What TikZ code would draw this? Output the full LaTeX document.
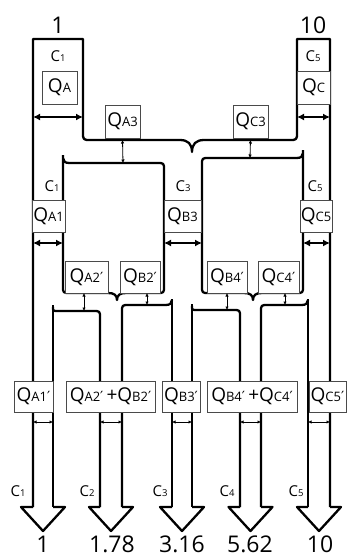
\documentclass[tikz,border=0pt]{standalone}
\usepackage{fontspec}
\setmainfont{Open Sans}
\newfontfamily\primefont{DejaVu Sans}
\usetikzlibrary{arrows.meta}
\definecolor{boxgray}{HTML}{4A4A4A}
\newcommand{\qs}[1]{{\fontsize{13}{13}\selectfont #1}}
\newcommand{\cs}[1]{{\fontsize{9.5}{9.5}\selectfont #1}}
\newcommand{\pr}{{\primefont\fontsize{14}{14}\selectfont ′}}

\begin{document}
\begin{tikzpicture}[x=1pt, y=-1pt,
  wall/.style={line width=2.3pt, line join=round},
  qbox/.style={draw=boxgray, line width=0.9pt, fill=white, inner sep=0pt, font=\fontsize{19}{19}\selectfont},
  clabel/.style={font=\fontsize{15}{15}\selectfont},
  numlabel/.style={font=\fontsize{23}{23}\selectfont},
  bigarrow/.style={{Latex[length=7pt,width=7pt]}-{Latex[length=7pt,width=7pt]}, line width=1.6pt},
  tinyarrow/.style={{Latex[length=3.5pt,width=3.5pt]}-{Latex[length=3.5pt,width=3.5pt]}, line width=0.8pt}]
  \useasboundingbox (0,0) rectangle (349,558);

  % outer channels and top brace
  \draw[wall] (33,507) -- (33,39) -- (83,39) -- (83,132) .. controls (83,140) .. (91,140) -- (180,140)
    .. controls (188,140) and (192,144) .. (192,152) .. controls (192,144) and (196,140) .. (204,140)
    -- (289,140) .. controls (297,140) .. (297,132) -- (297,39) -- (330,39) -- (330,507);

  % left branch
  \draw[wall] (63,155) -- (63,286) .. controls (63,293) .. (70,293) -- (108,293)
    .. controls (114,293) and (117,295) .. (117,300) .. controls (117,295) and (120,293) .. (126,293)
    -- (157,293) .. controls (164,293) .. (164,286) -- (164,170) .. controls (164,163) .. (157,163)
    -- (69,163) .. controls (65,163) and (63,161) .. (63,158);

  % right branch
  \draw[wall] (303,150) -- (303,286) .. controls (303,293) .. (296,293) -- (262,293)
    .. controls (256,293) and (253,295) .. (253,300) .. controls (253,295) and (250,293) .. (244,293)
    -- (209,293) .. controls (202,293) .. (202,286) -- (202,165) .. controls (202,158) .. (209,158)
    -- (297,158) .. controls (301,158) and (303,156) .. (303,153);

  % lower sub-branches
  \draw[wall] (53,305) -- (53,507);
  \draw[wall] (53,307) .. controls (53,311) .. (58,311) -- (93,311) .. controls (100,311) .. (100,318) -- (100,507);
  \draw[wall] (122,507) -- (122,312) .. controls (122,305) .. (129,305) -- (166,305) .. controls (170,305) and (172,303) .. (172,300);
  \draw[wall] (172,299) -- (172,507);
  \draw[wall] (192,304) -- (192,507);
  \draw[wall] (192,306) .. controls (192,310) .. (197,310) -- (233,310) .. controls (240,310) .. (240,317) -- (240,507);
  \draw[wall] (261,507) -- (261,312) .. controls (261,305) .. (268,305) -- (302,305) .. controls (306,305) and (308,303) .. (308,300);
  \draw[wall] (308,299) -- (308,507);

  % arrow heads
  \foreach \l/\c/\r in {33/43/53, 100/111/122, 172/182/192, 240/250.5/261, 308/319/330}
    \draw[wall] (\l,507) -- (\c-22,507) -- (\c,531) -- (\c+22,507) -- (\r,507);

  % labels
  \node[numlabel, anchor=base] (top1) at (58,33) {1};
  \node[numlabel, anchor=base] (top10) at (313,33) {10};
  \node[clabel] (ct1) at (58,56) {C\cs{1}};
  \node[clabel] (ct5) at (313,56) {C\cs{5}};
  \node[clabel] (cm1) at (52,186) {C\cs{1}};
  \node[clabel] (cm3) at (183,186) {C\cs{3}};
  \node[clabel] (cm5) at (315,186) {C\cs{5}};
  \foreach \x/\i in {18/1, 87/2, 160/3, 227/4, 296/5}
    \node[clabel] (cb\i) at (\x,491) {C\cs{\i}};
  \foreach \x/\v/\i in {43/1/1, 112/1.78/2, 182/3.16/3, 250/5.62/4, 320/10/5}
    \node[numlabel, anchor=base] (out\i) at (\x,552) {\v};

  % boxes
  \node[qbox, minimum width=35, minimum height=33] (qa) at (59.5,87.5) {Q\qs{A}};
  \node[qbox, minimum width=33, minimum height=33] (qc) at (313.5,87.5) {Q\qs{C}};
  \node[qbox, minimum width=35, minimum height=33] (qa3) at (122.5,121.5) {Q\qs{A3}};
  \node[qbox, minimum width=35, minimum height=33] (qc3) at (250.5,121.5) {Q\qs{C3}};
  \node[qbox, minimum width=33, minimum height=32] (qa1) at (48.5,216) {Q\qs{A1}};
  \node[qbox, minimum width=37, minimum height=32] (qb3) at (182.5,216) {Q\qs{B3}};
  \node[qbox, minimum width=32, minimum height=32] (qc5) at (316,216) {Q\qs{C5}};
  \node[qbox, minimum width=43, minimum height=32] (qa2) at (86.5,277) {Q\qs{A2}\pr};
  \node[qbox, minimum width=40, minimum height=32] (qb2) at (140,277) {Q\qs{B2}\pr};
  \node[qbox, minimum width=40, minimum height=32] (qb4) at (227,277) {Q\qs{B4}\pr};
  \node[qbox, minimum width=41, minimum height=32] (qc4) at (278.5,277) {Q\qs{C4}\pr};
  \node[qbox, minimum width=39, minimum height=31] (qa1p) at (33.5,396.5) {Q\qs{A1}\pr};
  \node[qbox, minimum width=89, minimum height=31] (qab2p) at (110.5,396.5) {Q\qs{A2}\pr\,+Q\qs{B2}\pr};
  \node[qbox, minimum width=38, minimum height=31] (qb3p) at (181,396.5) {Q\qs{B3}\pr};
  \node[qbox, minimum width=90, minimum height=31] (qbc4p) at (252,396.5) {Q\qs{B4}\pr\,+Q\qs{C4}\pr};
  \node[qbox, minimum width=37, minimum height=31] (qc5p) at (327.5,396.5) {Q\qs{C5}\pr};

  % double arrows
  \foreach \n/\a/\b/\y in {t1/33/83/117, t5/297/330/117, m1/63/33/243, m3/164/202/243, m5/303/330/243}
    {\coordinate (l\n) at (\a,\y); \coordinate (r\n) at (\b,\y); \draw[bigarrow] (l\n) -- (r\n);}
  \foreach \n/\a/\b in {1/33/53, 2/100/122, 3/172/192, 4/240/261, 5/308/330}
    {\coordinate (lb\n) at (\a,422); \coordinate (rb\n) at (\b,422); \draw[tinyarrow] (lb\n) -- (rb\n);}
  \coordinate (lbtop) at (123,163);
  \coordinate (rbtop) at (250,158);
  \draw[tinyarrow] (qa3.south |- 0,140) -- (lbtop);
  \draw[tinyarrow] (qc3.south |- 0,140) -- (rbtop);
  \coordinate (satop) at (84,311);
  \coordinate (sbtop) at (147,305);
  \coordinate (sctop) at (227,310);
  \coordinate (sdtop) at (285,305);
  \draw[tinyarrow] (84,293) -- (satop);
  \draw[tinyarrow] (147,293) -- (sbtop);
  \draw[tinyarrow] (227,293) -- (sctop);
  \draw[tinyarrow] (285,293) -- (sdtop);
\end{tikzpicture}
\end{document}
